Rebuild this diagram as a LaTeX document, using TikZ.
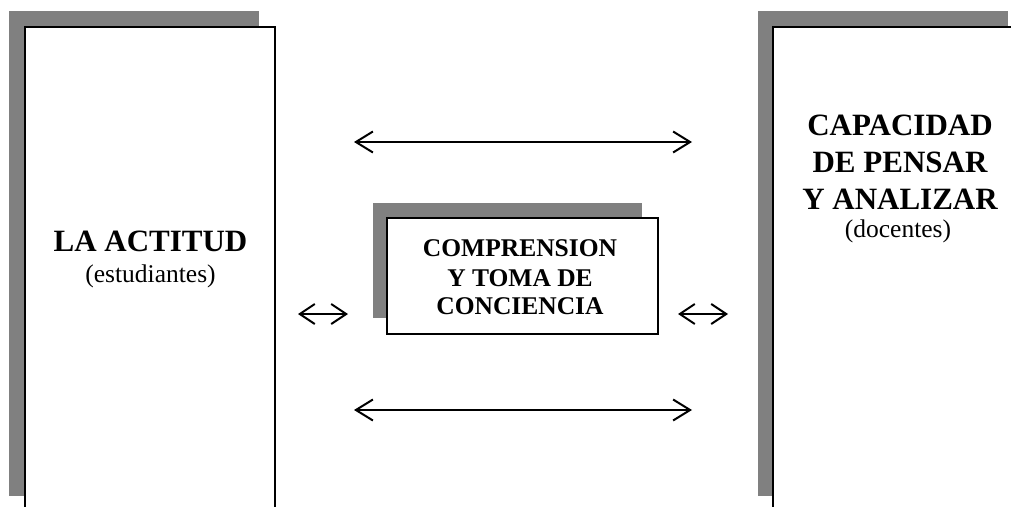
\documentclass[tikz,border=0pt]{standalone}
\usepackage{fontspec}
\setmainfont{Liberation Serif}
\usetikzlibrary{arrows.meta}
\tikzset{
  shadowbox/.style={fill=black!50, draw=none},
  mainbox/.style={draw=black, line width=2pt, fill=white, rectangle, inner sep=0pt},
  bigtxt/.style={font=\fontsize{31}{37}\selectfont\bfseries, anchor=base, inner sep=0pt},
  midtxt/.style={font=\fontsize{25.5}{29}\selectfont\bfseries, anchor=base, inner sep=0pt},
  smalltxt/.style={font=\fontsize{25.5}{30}\selectfont, anchor=base, inner sep=0pt},
  dbl/.style={line width=1.8pt, {Straight Barb[length=17pt,width=21pt,line width=2pt]}-{Straight Barb[length=17pt,width=21pt,line width=2pt]}},
  sdbl/.style={line width=1.8pt, {Straight Barb[length=15pt,width=20pt,line width=2pt]}-{Straight Barb[length=15pt,width=20pt,line width=2pt]}}
}
\begin{document}
\begin{tikzpicture}[x=1pt,y=-1pt]
\useasboundingbox (0,0) rectangle (1011,506);
\clip (0,0) rectangle (1011,506);
% left box
\fill[shadowbox] (9,11) rectangle (259,496);
\node[mainbox, minimum width=250pt, minimum height=485pt] (left) at (150,269.5) {};
\node[bigtxt] (lt1) at (150.5,251) {LA ACTITUD};
\node[smalltxt] (lt2) at (150.5,282) {(estudiantes)};
% right box
\fill[shadowbox] (758,11) rectangle (1008,496);
\node[mainbox, minimum width=250pt, minimum height=485pt] (right) at (898,269.5) {};
\node[bigtxt] (rt1) at (900,135) {CAPACIDAD};
\node[bigtxt] (rt2) at (900,172) {DE PENSAR};
\node[bigtxt] (rt3) at (900,209) {Y ANALIZAR};
\node[smalltxt] (rt4) at (898,237) {(docentes)};
% middle box
\fill[shadowbox] (373,203) rectangle (642,318);
\node[mainbox, minimum width=271pt, minimum height=116pt] (mid) at (522.5,276) {};
\node[midtxt] (mt1) at (520,256) {COMPRENSION};
\node[midtxt] (mt2) at (520,286) {Y TOMA DE};
\node[midtxt] (mt3) at (520,314) {CONCIENCIA};
% arrows
\coordinate (ta) at (354,142);
\coordinate (tb) at (692,142);
\coordinate (ba) at (354,410);
\coordinate (bb) at (692,410);
\coordinate (la) at (298,314);
\coordinate (lb) at (348,314);
\coordinate (ra) at (678,314);
\coordinate (rb) at (728,314);
\draw[dbl] (ta) -- (tb);
\draw[dbl] (ba) -- (bb);
\draw[sdbl] (la) -- (lb);
\draw[sdbl] (ra) -- (rb);
\end{tikzpicture}
\end{document}
